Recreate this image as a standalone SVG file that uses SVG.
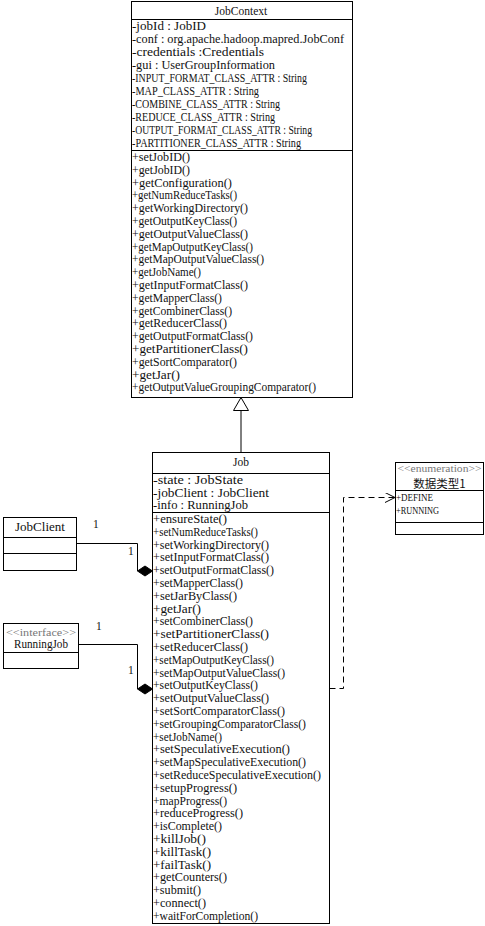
<svg xmlns="http://www.w3.org/2000/svg" width="485" height="926" viewBox="0 0 485 926">
<style>
.box{fill:#fff;stroke:#000;stroke-width:1}
.ln{stroke:#000;stroke-width:1;fill:none}
text{font-family:"Liberation Serif","Noto Sans CJK SC",serif;font-size:11.5px;fill:#111}
.t{text-anchor:middle}
.st{fill:#777;font-size:10.5px}
.cjk{font-family:"Noto Sans CJK SC","Liberation Serif",sans-serif;font-size:11.5px}
.sm{font-size:10.5px}
</style>
<defs>
<marker id="open" viewBox="0 0 10 10" refX="10" refY="5" markerWidth="10" markerHeight="10" markerUnits="userSpaceOnUse" orient="auto">
<path d="M0,0 L10,5 L0,10" fill="none" stroke="#000" stroke-width="1"/>
</marker>
<clipPath id="cc"><rect x="131" y="1" width="221" height="396"/></clipPath>
</defs>

<g id="JobContext">
<rect class="box" x="131.5" y="1.5" width="221" height="396"/>
<line class="ln" x1="131.5" y1="19.5" x2="352.5" y2="19.5"/>
<line class="ln" x1="131.5" y1="150.5" x2="352.5" y2="150.5"/>
<text class="t" x="241" y="15">JobContext</text>
<g clip-path="url(#cc)">
<text x="132" y="30" textLength="74" lengthAdjust="spacingAndGlyphs">-jobId : JobID</text>
<text x="132" y="43" textLength="212" lengthAdjust="spacingAndGlyphs">-conf : org.apache.hadoop.mapred.JobConf</text>
<text x="132" y="56" textLength="132" lengthAdjust="spacingAndGlyphs">-credentials :Credentials</text>
<text x="132" y="69" textLength="143" lengthAdjust="spacingAndGlyphs">-gui : UserGroupInformation</text>
<text x="132" y="82" textLength="175" lengthAdjust="spacingAndGlyphs">-INPUT_FORMAT_CLASS_ATTR : String</text>
<text x="132" y="95" textLength="127" lengthAdjust="spacingAndGlyphs">-MAP_CLASS_ATTR : String</text>
<text x="132" y="108" textLength="148" lengthAdjust="spacingAndGlyphs">-COMBINE_CLASS_ATTR : String</text>
<text x="132" y="121" textLength="143" lengthAdjust="spacingAndGlyphs">-REDUCE_CLASS_ATTR : String</text>
<text x="132" y="134" textLength="180" lengthAdjust="spacingAndGlyphs">-OUTPUT_FORMAT_CLASS_ATTR : String</text>
<text x="132" y="147" textLength="169" lengthAdjust="spacingAndGlyphs">-PARTITIONER_CLASS_ATTR : String</text>
</g>
<text x="132" y="161" textLength="58" lengthAdjust="spacingAndGlyphs">+setJobID()</text>
<text x="132" y="173.8" textLength="58" lengthAdjust="spacingAndGlyphs">+getJobID()</text>
<text x="132" y="186.6" textLength="100" lengthAdjust="spacingAndGlyphs">+getConfiguration()</text>
<text x="132" y="199.4" textLength="105" lengthAdjust="spacingAndGlyphs">+getNumReduceTasks()</text>
<text x="132" y="212.2" textLength="116" lengthAdjust="spacingAndGlyphs">+getWorkingDirectory()</text>
<text x="132" y="225" textLength="105" lengthAdjust="spacingAndGlyphs">+getOutputKeyClass()</text>
<text x="132" y="237.8" textLength="116" lengthAdjust="spacingAndGlyphs">+getOutputValueClass()</text>
<text x="132" y="250.6" textLength="121" lengthAdjust="spacingAndGlyphs">+getMapOutputKeyClass()</text>
<text x="132" y="263.4" textLength="132" lengthAdjust="spacingAndGlyphs">+getMapOutputValueClass()</text>
<text x="132" y="276.2" textLength="69" lengthAdjust="spacingAndGlyphs">+getJobName()</text>
<text x="132" y="289" textLength="116" lengthAdjust="spacingAndGlyphs">+getInputFormatClass()</text>
<text x="132" y="301.8" textLength="90" lengthAdjust="spacingAndGlyphs">+getMapperClass()</text>
<text x="132" y="314.6" textLength="100" lengthAdjust="spacingAndGlyphs">+getCombinerClass()</text>
<text x="132" y="327.4" textLength="95" lengthAdjust="spacingAndGlyphs">+getReducerClass()</text>
<text x="132" y="340.2" textLength="121" lengthAdjust="spacingAndGlyphs">+getOutputFormatClass()</text>
<text x="132" y="353" textLength="116" lengthAdjust="spacingAndGlyphs">+getPartitionerClass()</text>
<text x="132" y="365.8" textLength="105" lengthAdjust="spacingAndGlyphs">+getSortComparator()</text>
<text x="132" y="378.6" textLength="48" lengthAdjust="spacingAndGlyphs">+getJar()</text>
<text x="132" y="391.4" textLength="184" lengthAdjust="spacingAndGlyphs">+getOutputValueGroupingComparator()</text>
</g>

<g id="Job">
<rect class="box" x="152.5" y="452.5" width="177" height="471"/>
<line class="ln" x1="152.5" y1="473.5" x2="329.5" y2="473.5"/>
<line class="ln" x1="152.5" y1="512.5" x2="329.5" y2="512.5"/>
<text class="t" x="241" y="466">Job</text>
<text x="153" y="484" textLength="90" lengthAdjust="spacingAndGlyphs">-state : JobState</text>
<text x="153" y="496.5" textLength="116" lengthAdjust="spacingAndGlyphs">-jobClient : JobClient</text>
<text x="153" y="509" textLength="95" lengthAdjust="spacingAndGlyphs">-info : RunningJob</text>
<text x="153" y="523" textLength="74" lengthAdjust="spacingAndGlyphs">+ensureState()</text>
<text x="153" y="535.8" textLength="105" lengthAdjust="spacingAndGlyphs">+setNumReduceTasks()</text>
<text x="153" y="548.6" textLength="116" lengthAdjust="spacingAndGlyphs">+setWorkingDirectory()</text>
<text x="153" y="561.4" textLength="116" lengthAdjust="spacingAndGlyphs">+setInputFormatClass()</text>
<text x="153" y="574.2" textLength="121" lengthAdjust="spacingAndGlyphs">+setOutputFormatClass()</text>
<text x="153" y="587" textLength="90" lengthAdjust="spacingAndGlyphs">+setMapperClass()</text>
<text x="153" y="599.8" textLength="84" lengthAdjust="spacingAndGlyphs">+setJarByClass()</text>
<text x="153" y="612.6" textLength="48" lengthAdjust="spacingAndGlyphs">+getJar()</text>
<text x="153" y="625.4" textLength="100" lengthAdjust="spacingAndGlyphs">+setCombinerClass()</text>
<text x="153" y="638.2" textLength="116" lengthAdjust="spacingAndGlyphs">+setPartitionerClass()</text>
<text x="153" y="651" textLength="95" lengthAdjust="spacingAndGlyphs">+setReducerClass()</text>
<text x="153" y="663.8" textLength="121" lengthAdjust="spacingAndGlyphs">+setMapOutputKeyClass()</text>
<text x="153" y="676.6" textLength="132" lengthAdjust="spacingAndGlyphs">+setMapOutputValueClass()</text>
<text x="153" y="689.4" textLength="105" lengthAdjust="spacingAndGlyphs">+setOutputKeyClass()</text>
<text x="153" y="702.2" textLength="116" lengthAdjust="spacingAndGlyphs">+setOutputValueClass()</text>
<text x="153" y="715" textLength="132" lengthAdjust="spacingAndGlyphs">+setSortComparatorClass()</text>
<text x="153" y="727.8" textLength="153" lengthAdjust="spacingAndGlyphs">+setGroupingComparatorClass()</text>
<text x="153" y="740.6" textLength="69" lengthAdjust="spacingAndGlyphs">+setJobName()</text>
<text x="153" y="753.4" textLength="137" lengthAdjust="spacingAndGlyphs">+setSpeculativeExecution()</text>
<text x="153" y="766.2" textLength="153" lengthAdjust="spacingAndGlyphs">+setMapSpeculativeExecution()</text>
<text x="153" y="779" textLength="168" lengthAdjust="spacingAndGlyphs">+setReduceSpeculativeExecution()</text>
<text x="153" y="791.8" textLength="84" lengthAdjust="spacingAndGlyphs">+setupProgress()</text>
<text x="153" y="804.6" textLength="74" lengthAdjust="spacingAndGlyphs">+mapProgress()</text>
<text x="153" y="817.4" textLength="90" lengthAdjust="spacingAndGlyphs">+reduceProgress()</text>
<text x="153" y="830.2" textLength="69" lengthAdjust="spacingAndGlyphs">+isComplete()</text>
<text x="153" y="843" textLength="53" lengthAdjust="spacingAndGlyphs">+killJob()</text>
<text x="153" y="855.8" textLength="58" lengthAdjust="spacingAndGlyphs">+killTask()</text>
<text x="153" y="868.6" textLength="58" lengthAdjust="spacingAndGlyphs">+failTask()</text>
<text x="153" y="881.4" textLength="74" lengthAdjust="spacingAndGlyphs">+getCounters()</text>
<text x="153" y="894.2" textLength="48" lengthAdjust="spacingAndGlyphs">+submit()</text>
<text x="153" y="907" textLength="53" lengthAdjust="spacingAndGlyphs">+connect()</text>
<text x="153" y="919.8" textLength="105" lengthAdjust="spacingAndGlyphs">+waitForCompletion()</text>
</g>

<g id="Enum">
<rect class="box" x="395.5" y="462.5" width="88" height="72"/>
<line class="ln" x1="395.5" y1="490.5" x2="483.5" y2="490.5"/>
<line class="ln" x1="395.5" y1="522.5" x2="483.5" y2="522.5"/>
<text class="t st" x="439.5" y="472" textLength="84" lengthAdjust="spacingAndGlyphs">&lt;&lt;enumeration&gt;&gt;</text>
<text class="t cjk" x="439.5" y="487.5">数据类型1</text>
<text class="sm" x="396" y="501" textLength="37" lengthAdjust="spacingAndGlyphs">+DEFINE</text>
<text class="sm" x="396" y="513.5" textLength="43" lengthAdjust="spacingAndGlyphs">+RUNNING</text>
</g>

<g id="JobClient">
<rect class="box" x="3.5" y="517.5" width="73" height="53"/>
<line class="ln" x1="3.5" y1="537.5" x2="76.5" y2="537.5"/>
<line class="ln" x1="3.5" y1="553.5" x2="76.5" y2="553.5"/>
<text class="t" x="40" y="531" textLength="50" lengthAdjust="spacingAndGlyphs">JobClient</text>
</g>

<g id="RunningJob">
<rect class="box" x="3.5" y="623.5" width="75" height="45"/>
<line class="ln" x1="3.5" y1="652.5" x2="78.5" y2="652.5"/>
<text class="t st" x="41" y="635.5" textLength="70" lengthAdjust="spacingAndGlyphs">&lt;&lt;interface&gt;&gt;</text>
<text class="t" x="41" y="648" textLength="54" lengthAdjust="spacingAndGlyphs">RunningJob</text>
</g>

<g id="connectors">
<path class="ln" d="M241,410.5 V452.5"/>
<path d="M241,397.5 L248.5,410.5 L233.5,410.5 Z" fill="#fff" stroke="#000" stroke-width="1"/>
<path class="ln" d="M76.5,543.5 H137.5 V571"/>
<path d="M137.5,571 L145,566 L152.5,571 L145,576 Z" fill="#000" stroke="#000" stroke-width="1"/>
<path class="ln" d="M78.5,644.5 H137.5 V689"/>
<path d="M137.5,689 L145,684 L152.5,689 L145,694 Z" fill="#000" stroke="#000" stroke-width="1"/>
<path class="ln" d="M329.5,688.5 H343.5 V497.5 H395" stroke-dasharray="6,4" marker-end="url(#open)"/>
<text x="93" y="528">1</text>
<text x="128" y="555">1</text>
<text x="96" y="630">1</text>
<text x="128" y="674">1</text>
</g>
</svg>
